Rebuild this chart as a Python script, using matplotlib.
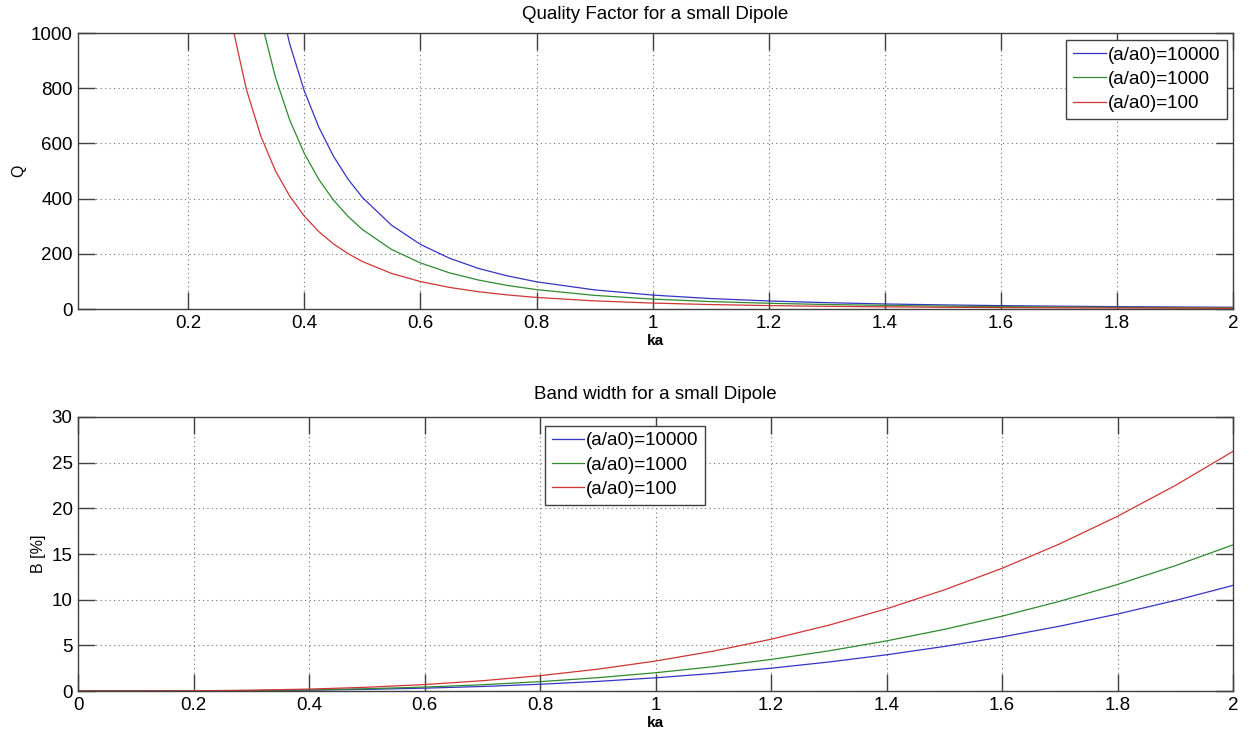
import matplotlib
matplotlib.use('Agg')
import matplotlib.pyplot as plt

plt.rcParams['font.family'] = ['Liberation Sans', 'DejaVu Sans']

labels = ['(a/a0)=10000', '(a/a0)=1000', '(a/a0)=100']
colors = ['#3434c4', '#2e8a2e', '#d03434']

# quality factor
ka_q = [0.25, 0.275, 0.30, 0.325, 0.35, 0.375, 0.40, 0.425, 0.45, 0.475, 0.50,
        0.55, 0.60, 0.65, 0.70, 0.75, 0.80, 0.90, 1.0, 1.1, 1.2, 1.3, 1.4,
        1.5, 1.6, 1.7, 1.8, 1.9, 2.0]
q_10000 = [3232, 2428, 1870, 1471, 1178, 958, 789, 658, 554, 471, 404,
           304, 234, 184, 147, 120, 98.6, 69.3, 50.5, 37.9, 29.2, 23.0, 18.4,
           15.0, 12.3, 10.3, 8.66, 7.36, 6.31]
q_1000 = [2304, 1731, 1333, 1049, 840, 683, 563, 469, 395, 336, 288,
          216, 167, 131, 105, 85.3, 70.3, 49.4, 36.0, 27.0, 20.8, 16.4, 13.1,
          10.7, 8.79, 7.33, 6.17, 5.25, 4.50]
q_100 = [1376, 1034, 796, 626, 501, 408, 336, 280, 236, 201, 172,
         129, 99.5, 78.3, 62.7, 51.0, 42.0, 29.5, 21.5, 16.2, 12.4, 9.79, 7.84,
         6.37, 5.25, 4.38, 3.69, 3.13, 2.69]

# bandwidth in percent
ka_b = [0, 0.1, 0.2, 0.3, 0.4, 0.5, 0.6, 0.7, 0.8, 0.9, 1.0,
        1.1, 1.2, 1.3, 1.4, 1.5, 1.6, 1.7, 1.8, 1.9, 2.0]
b_10000 = [0, 0.0014, 0.0116, 0.039, 0.092, 0.181, 0.312, 0.496, 0.740, 1.053, 1.445,
           1.923, 2.497, 3.175, 3.965, 4.877, 5.919, 7.099, 8.427, 9.911, 11.56]
b_1000 = [0, 0.002, 0.016, 0.054, 0.128, 0.25, 0.432, 0.686, 1.024, 1.458, 2.0,
          2.662, 3.456, 4.394, 5.488, 6.75, 8.192, 9.826, 11.66, 13.72, 16.0]
b_100 = [0, 0.0033, 0.026, 0.089, 0.210, 0.41, 0.708, 1.125, 1.679, 2.391, 3.28,
         4.366, 5.668, 7.206, 9.000, 11.07, 13.43, 16.11, 19.13, 22.50, 26.24]

fig = plt.figure(figsize=(12.49, 7.37), dpi=100)
ax1 = fig.add_axes([0.0625, 0.5807, 0.9247, 0.3745])
ax2 = fig.add_axes([0.0625, 0.0624, 0.9247, 0.3718])


def style(ax):
    ax.grid(True, linestyle=(0, (1, 3)), color='#707070', linewidth=0.8)
    ax.tick_params(direction='in', length=12, width=1, color='#404040',
                   labelsize=13.5, top=True, right=True, pad=4)
    for s in ax.spines.values():
        s.set_color('#404040')
        s.set_linewidth(1)
    ax.set_xlabel('ka', fontsize=11, fontweight='bold', labelpad=2)


def legend(ax, loc, anchor):
    ax.legend(loc=loc, bbox_to_anchor=anchor, fontsize=13.5,
              frameon=True, fancybox=False, edgecolor='#404040', framealpha=1,
              handlelength=1.75, handletextpad=0.1, labelspacing=0.38,
              borderpad=0.35, borderaxespad=0)


for y, c, l in zip([q_10000, q_1000, q_100], colors, labels):
    ax1.plot(ka_q, y, color=c, linewidth=0.9, label=l)
ax1.set_xlim(0.01, 2)
ax1.set_ylim(0, 1000)
ax1.set_xticks([0.2, 0.4, 0.6, 0.8, 1, 1.2, 1.4, 1.6, 1.8, 2])
ax1.set_xticklabels(['0.2', '0.4', '0.6', '0.8', '1', '1.2', '1.4', '1.6', '1.8', '2'])
ax1.set_yticks([0, 200, 400, 600, 800, 1000])
style(ax1)
ax1.set_ylabel('Q', fontsize=11.5, labelpad=3)
ax1.set_title('Quality Factor for a small Dipole', fontsize=13.5, pad=10)
legend(ax1, 'upper right', (0.9945, 0.9746))

for y, c, l in zip([b_10000, b_1000, b_100], colors, labels):
    ax2.plot(ka_b, y, color=c, linewidth=0.9, label=l)
ax2.set_xlim(0, 2)
ax2.set_ylim(0, 30)
ax2.set_xticks([0, 0.2, 0.4, 0.6, 0.8, 1, 1.2, 1.4, 1.6, 1.8, 2])
ax2.set_xticklabels(['0', '0.2', '0.4', '0.6', '0.8', '1', '1.2', '1.4', '1.6', '1.8', '2'])
ax2.set_yticks([0, 5, 10, 15, 20, 25, 30])
style(ax2)
ax2.set_ylabel('B [%]', fontsize=11.5, labelpad=4)
ax2.set_title('Band width for a small Dipole', fontsize=13.5, pad=13)
legend(ax2, 'upper left', (0.4043, 0.968))

fig.savefig('out.png', dpi=100)
